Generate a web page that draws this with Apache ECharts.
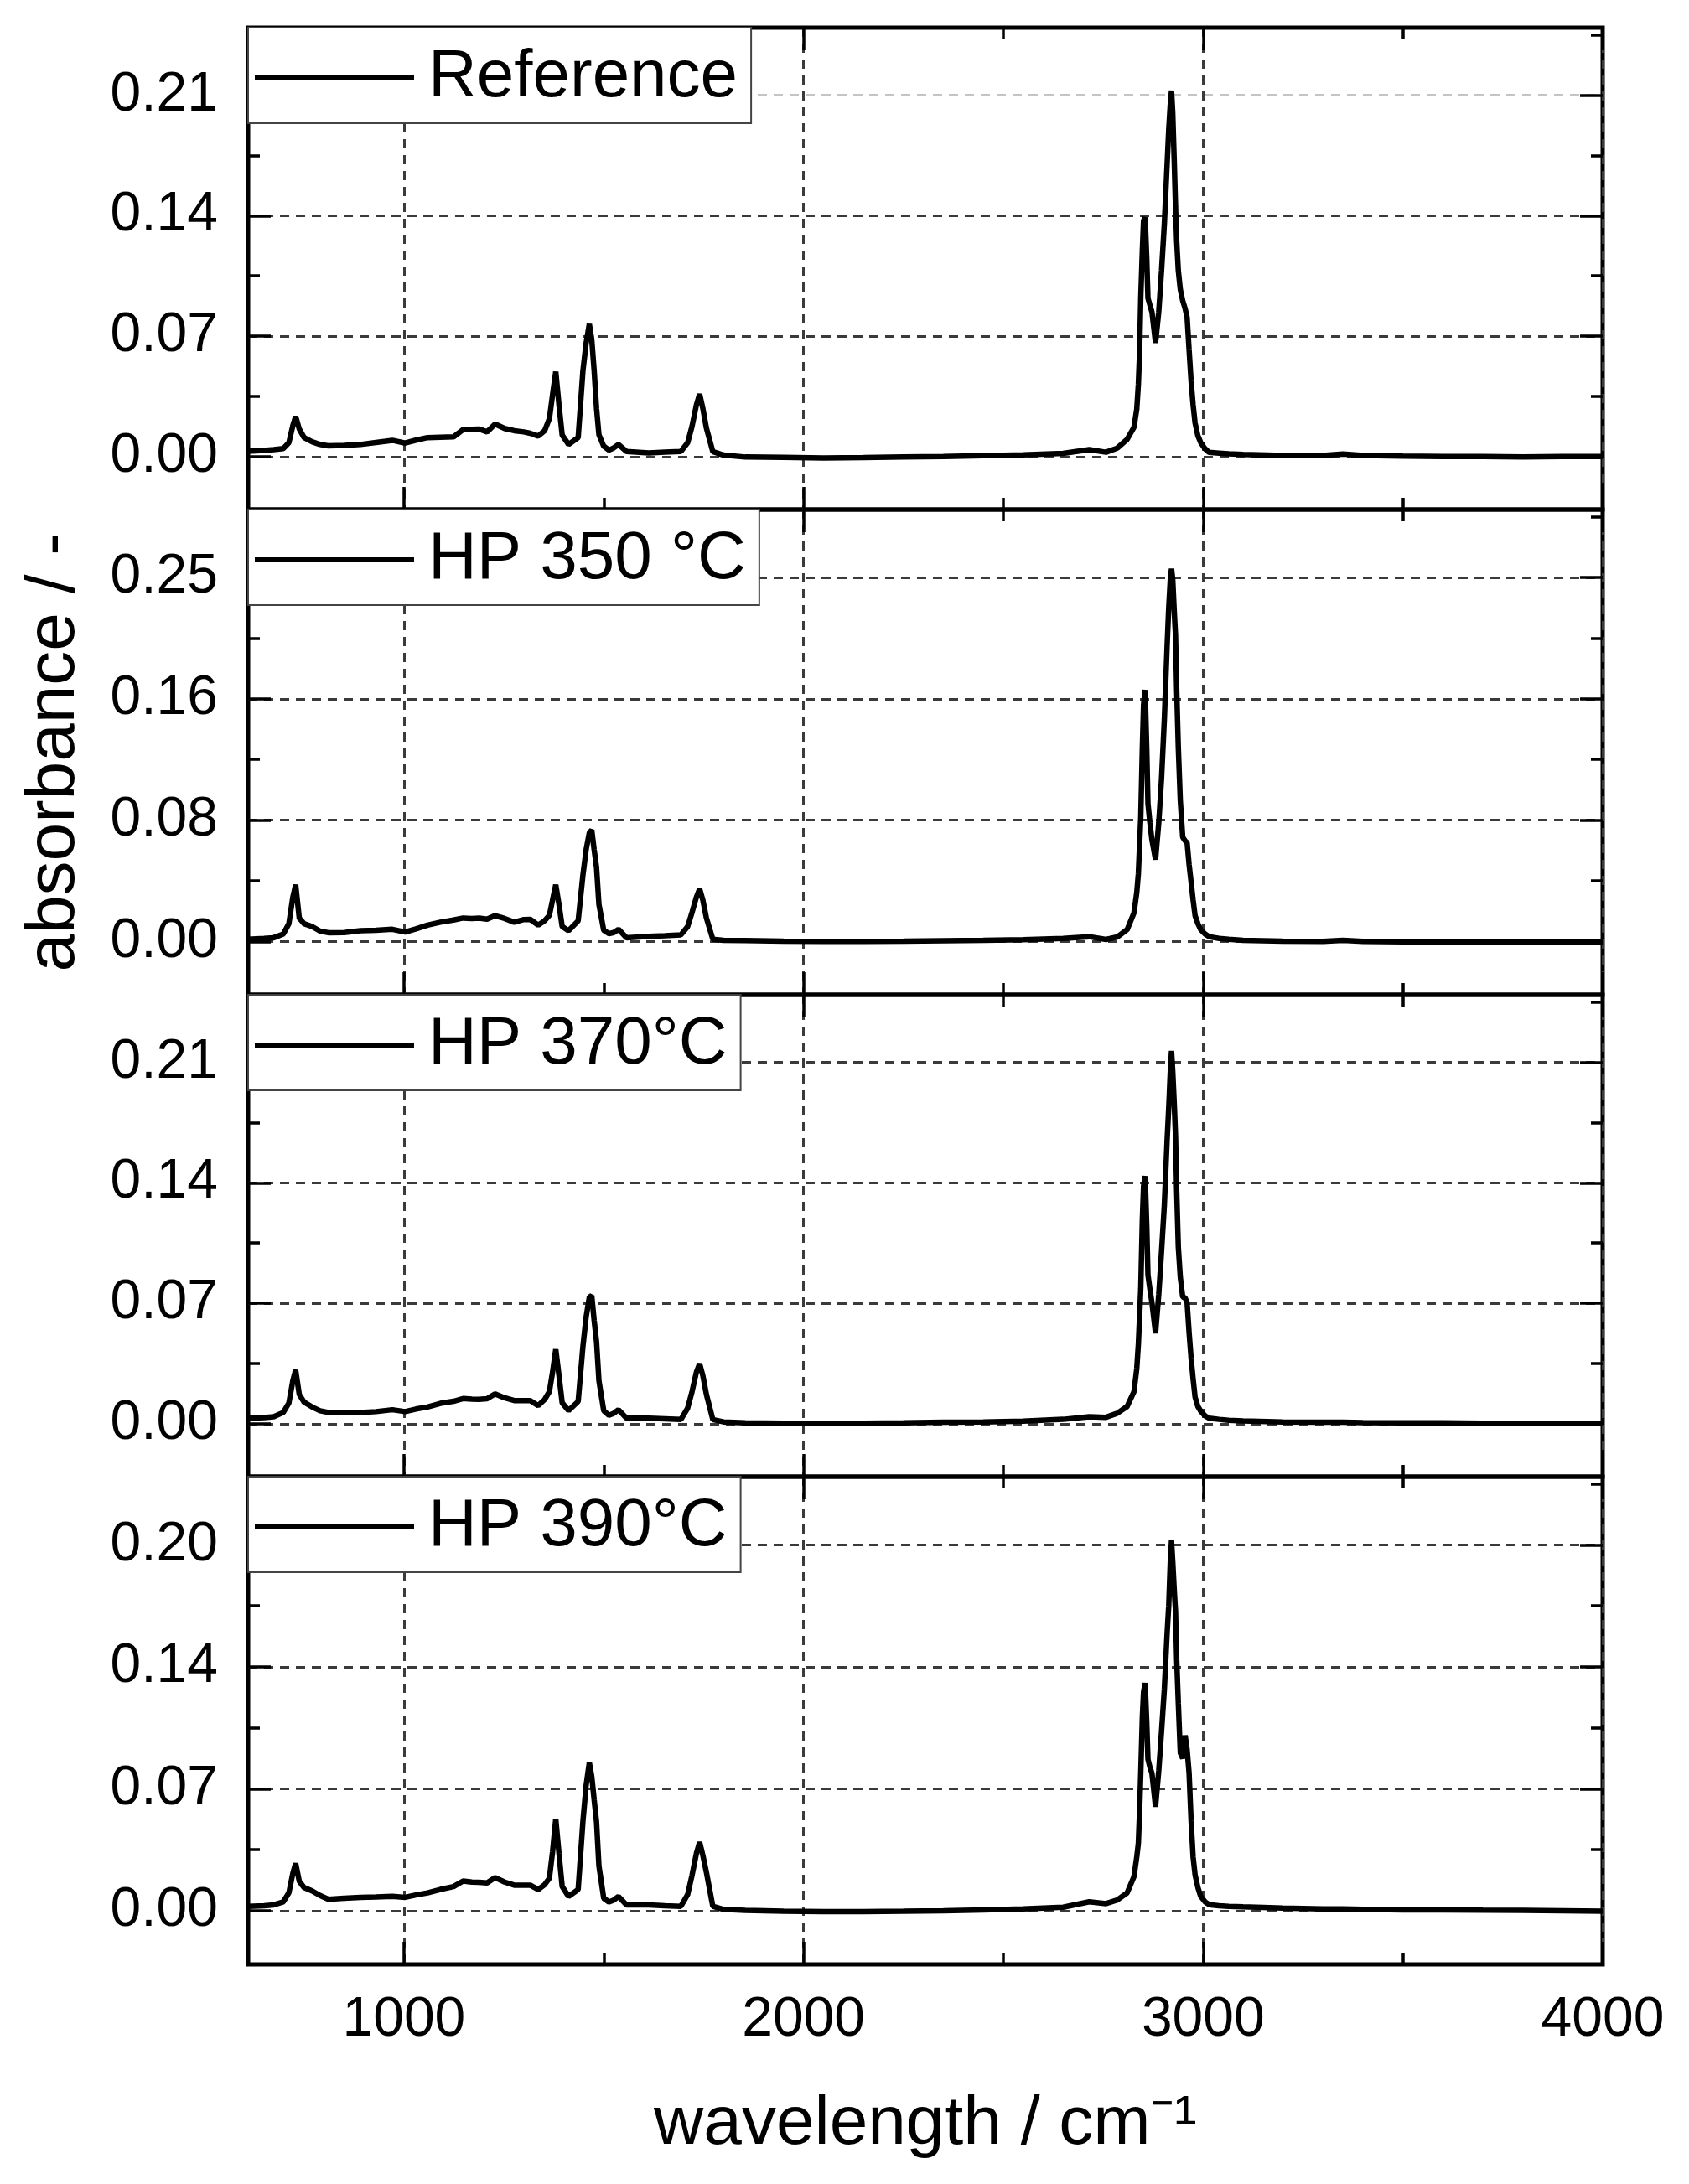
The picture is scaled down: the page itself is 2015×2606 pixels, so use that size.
<!DOCTYPE html>
<html>
<head>
<meta charset="utf-8">
<script src="https://cdn.jsdelivr.net/npm/echarts@6/dist/echarts.min.js"></script>
<style>
  html, body { margin: 0; padding: 0; background: #fff; }
  #chart { width: 2015px; height: 2606px; }
</style>
</head>
<body>
<div id="chart"></div>
<script>
// wavenumber grid shared by all four spectra (cm-1)
const wavenumbers = [
  610, 650, 674, 698, 712, 722, 729, 738, 750, 770,
  790, 811, 850, 891, 930, 971, 1003, 1030, 1059, 1091,
  1124, 1148, 1170, 1188, 1208, 1228, 1252, 1276, 1300, 1316,
  1336, 1352, 1364, 1372, 1380, 1388, 1396, 1412, 1436, 1448,
  1456, 1464, 1470, 1476, 1482, 1488, 1500, 1513, 1525, 1537,
  1557, 1613, 1653, 1693, 1710, 1721, 1732, 1740, 1748, 1757,
  1773, 1800, 1854, 1950, 2050, 2150, 2250, 2350, 2450, 2550,
  2650, 2715, 2757, 2785, 2810, 2827, 2834, 2838, 2841, 2844,
  2848, 2851, 2855, 2859, 2862, 2867, 2872, 2881, 2889, 2896,
  2903, 2910, 2914, 2918, 2921, 2924, 2928, 2931, 2934, 2938,
  2943, 2949, 2955, 2960, 2965, 2970, 2975, 2980, 2987, 2994,
  3005, 3015, 3040, 3064, 3100, 3200, 3300, 3350, 3400, 3500,
  3600, 3700, 3800, 3900, 4000
];

// absorbance of each sample at the wavenumbers above
const absReference = [
  0.003, 0.0035, 0.004, 0.0046, 0.008, 0.018, 0.0233, 0.016, 0.011, 0.0086,
  0.007, 0.0062, 0.0065, 0.007, 0.0082, 0.0094, 0.0078, 0.0095, 0.011, 0.0112,
  0.0114, 0.0156, 0.0158, 0.016, 0.0143, 0.0189, 0.0163, 0.015, 0.0143, 0.0135,
  0.0119, 0.015, 0.022, 0.036, 0.0493, 0.03, 0.0125, 0.007, 0.011, 0.05,
  0.066, 0.077, 0.068, 0.05, 0.028, 0.0127, 0.006, 0.0037, 0.005, 0.007,
  0.0029, 0.0021, 0.0025, 0.0029, 0.008, 0.0176, 0.03, 0.0363, 0.028, 0.0165,
  0.0029, 0.0008, -0.0003, -0.0005, -0.0008, -0.0006, -0.0003, 0.0, 0.0005, 0.001,
  0.0018, 0.004, 0.0025, 0.0049, 0.01, 0.017, 0.0275, 0.042, 0.0598, 0.092,
  0.12, 0.137, 0.139, 0.115, 0.092, 0.088, 0.084, 0.066, 0.084, 0.108,
  0.135, 0.17, 0.19, 0.205, 0.2126, 0.2, 0.17, 0.145, 0.125, 0.108,
  0.097, 0.0905, 0.086, 0.081, 0.062, 0.0437, 0.03, 0.0194, 0.012, 0.0081,
  0.0045, 0.0024, 0.002, 0.0016, 0.0012, 0.0006, 0.0006, 0.0015, 0.0006, 0.0002,
  0.0, 0.0, -0.0002, 0.0, 0.0
];
const absHP350 = [
  0.0015, 0.002, 0.0025, 0.005, 0.012, 0.03, 0.0383, 0.0158, 0.012, 0.0101,
  0.007, 0.0059, 0.006, 0.0072, 0.0075, 0.0082, 0.0063, 0.0085, 0.011, 0.013,
  0.0145, 0.0158, 0.0155, 0.0158, 0.015, 0.0174, 0.0155, 0.013, 0.0148, 0.0149,
  0.011, 0.014, 0.0177, 0.028, 0.0383, 0.025, 0.0101, 0.0072, 0.0139, 0.045,
  0.062, 0.0735, 0.0753, 0.062, 0.05, 0.025, 0.0075, 0.0053, 0.006, 0.0082,
  0.0025, 0.0034, 0.0038, 0.0044, 0.01, 0.0196, 0.03, 0.0355, 0.028, 0.0158,
  0.0015, 0.0008, 0.0006, 0.0002, 0.0, 0.0, 0.0002, 0.0005, 0.0008, 0.0012,
  0.002, 0.0032, 0.0013, 0.003, 0.008, 0.0193, 0.033, 0.0458, 0.065, 0.0837,
  0.131, 0.16, 0.17, 0.13, 0.0932, 0.08, 0.0686, 0.0553, 0.08, 0.11,
  0.15, 0.2, 0.2257, 0.245, 0.2519, 0.245, 0.222, 0.2068, 0.17, 0.131,
  0.095, 0.0704, 0.068, 0.0667, 0.052, 0.0401, 0.028, 0.0174, 0.012, 0.008,
  0.005, 0.0032, 0.002, 0.0015, 0.0008, 0.0002, 0.0, 0.0008, 0.0, -0.0003,
  -0.0005, -0.0005, -0.0005, -0.0006, -0.0006
];
const absHP370 = [
  0.0032, 0.0035, 0.004, 0.0065, 0.012, 0.025, 0.0312, 0.017, 0.0125, 0.0097,
  0.0075, 0.0065, 0.0065, 0.0065, 0.007, 0.0081, 0.007, 0.0085, 0.0097, 0.0118,
  0.013, 0.0146, 0.0142, 0.0141, 0.0145, 0.0173, 0.015, 0.0134, 0.0134, 0.0134,
  0.0105, 0.014, 0.0186, 0.03, 0.0432, 0.028, 0.0121, 0.0076, 0.0129, 0.045,
  0.062, 0.0735, 0.0744, 0.06, 0.0477, 0.025, 0.0075, 0.0049, 0.006, 0.0081,
  0.0032, 0.0032, 0.0028, 0.0024, 0.009, 0.0186, 0.03, 0.0348, 0.028, 0.017,
  0.0024, 0.001, 0.0005, 0.0003, 0.0002, 0.0003, 0.0005, 0.0008, 0.001, 0.0015,
  0.0025, 0.004, 0.0037, 0.006, 0.01, 0.0186, 0.032, 0.0461, 0.062, 0.0784,
  0.1188, 0.138, 0.1439, 0.115, 0.0865, 0.078, 0.0703, 0.0525, 0.075, 0.1,
  0.1269, 0.165, 0.1835, 0.205, 0.2166, 0.205, 0.185, 0.1673, 0.135, 0.1027,
  0.085, 0.0736, 0.073, 0.0703, 0.053, 0.038, 0.026, 0.0154, 0.01, 0.0073,
  0.0045, 0.0032, 0.0025, 0.002, 0.0016, 0.001, 0.0008, 0.0008, 0.0006, 0.0005,
  0.0005, 0.0003, 0.0003, 0.0002, 0.0
];
const absHP390 = [
  0.0025, 0.0028, 0.0033, 0.005, 0.01, 0.021, 0.0264, 0.0165, 0.013, 0.0111,
  0.0085, 0.0064, 0.007, 0.0075, 0.0077, 0.008, 0.0075, 0.0088, 0.01, 0.0119,
  0.0135, 0.0166, 0.016, 0.0159, 0.0155, 0.0185, 0.016, 0.0143, 0.0143, 0.0143,
  0.0119, 0.0145, 0.0182, 0.033, 0.0512, 0.032, 0.0135, 0.008, 0.0119, 0.05,
  0.07, 0.0826, 0.075, 0.062, 0.0496, 0.025, 0.007, 0.0049, 0.006, 0.008,
  0.0033, 0.0033, 0.0028, 0.0025, 0.009, 0.0198, 0.032, 0.0383, 0.031, 0.0214,
  0.0025, 0.0008, 0.0002, -0.0003, -0.0005, -0.0005, -0.0003, 0.0, 0.0005, 0.001,
  0.002, 0.005, 0.004, 0.006, 0.01, 0.019, 0.03, 0.0377, 0.055, 0.0767,
  0.108, 0.122, 0.127, 0.105, 0.0845, 0.08, 0.0767, 0.058, 0.078, 0.1,
  0.1235, 0.155, 0.17, 0.195, 0.2065, 0.195, 0.178, 0.167, 0.14, 0.1157,
  0.088, 0.085, 0.0978, 0.09, 0.0767, 0.05, 0.03, 0.02, 0.013, 0.0081,
  0.005, 0.0034, 0.0028, 0.0025, 0.0022, 0.0015, 0.001, 0.001, 0.0008, 0.0005,
  0.0005, 0.0003, 0.0002, 0.0, -0.0002
];

const seriesNames = ['Reference', 'HP 350 °C', 'HP 370°C', 'HP 390°C'];
const seriesValues = [absReference, absHP350, absHP370, absHP390];
// major y tick step of each panel (labels show them rounded to 2 decimals)
const yTickSteps = [0.07, 0.082, 0.07, 0.068];
const xMajorTicks = [1000, 2000, 3000, 4000];
const xMinorTicks = [1500, 2500, 3500];
const xMin = 610;
const xMax = 4000;

const FONT = 'Liberation Sans, Arial, sans-serif';
const gridTops = [33, 608, 1187, 1762];
const gridHeights = [575, 579, 575, 582];

const chart = echarts.init(document.getElementById('chart'));

const grids = [], xAxes = [], yAxes = [], series = [], legends = [];

for (let g = 0; g < 4; g++) {
  grids.push({
    left: 296, right: 103, top: gridTops[g], height: gridHeights[g],
    show: true, borderWidth: 5, borderColor: '#000', backgroundColor: 'transparent'
  });

  const isBottom = g === 3;
  // x axes: bottom major (labels + grid), bottom minor, top major, top minor
  [['bottom', 'major'], ['bottom', 'minor'], ['top', 'major'], ['top', 'minor']].forEach(([pos, kind]) => {
    const main = pos === 'bottom' && kind === 'major';
    xAxes.push({
      type: 'value', gridIndex: g, position: pos, min: xMin, max: xMax,
      axisLine: { show: false, onZero: false },
      axisTick: {
        show: true, inside: true,
        customValues: kind === 'major' ? xMajorTicks : xMinorTicks,
        length: kind === 'major' ? 27 : 14,
        lineStyle: { color: '#000', width: 3.5 }
      },
      axisLabel: {
        show: main && isBottom, customValues: xMajorTicks,
        formatter: v => String(v),
        margin: 34, fontSize: 66, color: '#000', fontFamily: FONT
      },
      splitLine: {
        show: main,
        lineStyle: { type: [11, 8], width: 3, color: '#3a3a3a' }
      },
      name: main && isBottom ? 'wavelength / cm⁻¹' : '',
      nameLocation: 'middle',
      nameGap: 150,
      nameTextStyle: { fontSize: 82, color: '#000', fontFamily: FONT }
    });
  });

  const step = yTickSteps[g];
  const yMajor = [0, 1, 2, 3].map(k => k * step);
  const yMinor = [0.5, 1.5, 2.5, 3.5].map(k => k * step);
  [['left', 'major'], ['left', 'minor'], ['right', 'major'], ['right', 'minor']].forEach(([pos, kind]) => {
    const main = pos === 'left' && kind === 'major';
    yAxes.push({
      type: 'value', gridIndex: g, position: pos,
      min: -0.44 * step, max: 3.56 * step,
      axisLine: { show: false, onZero: false },
      axisTick: {
        show: true, inside: true,
        customValues: kind === 'major' ? yMajor : yMinor,
        length: kind === 'major' ? 27 : 14,
        lineStyle: { color: '#000', width: 3.5 }
      },
      axisLabel: {
        show: main, customValues: yMajor,
        formatter: v => v.toFixed(2),
        margin: 36, fontSize: 66, color: '#000', fontFamily: FONT
      },
      splitLine: {
        show: main,
        lineStyle: {
          type: [11, 8], width: 3,
          // the top grid line of the first panel is light grey in the original
          color: g === 0 ? ['#3a3a3a', '#3a3a3a', '#3a3a3a', '#c4c4c4'] : '#3a3a3a'
        }
      },
      name: main && g === 1 ? 'absorbance / -' : '',
      nameLocation: 'middle',
      nameGap: 190,
      nameTextStyle: { fontSize: 82, color: '#000', fontFamily: FONT }
    });
  });

  series.push({
    name: seriesNames[g],
    type: 'line',
    xAxisIndex: g * 4,
    yAxisIndex: g * 4,
    data: wavenumbers.map((w, i) => [w, seriesValues[g][i]]),
    symbol: 'none',
    lineStyle: { color: '#000', width: 6.5 },
    itemStyle: { color: '#000' },
    animation: false,
    z: 3
  });

  legends.push({
    data: [seriesNames[g]],
    left: 296, top: gridTops[g],
    orient: 'vertical',
    selectedMode: false,
    backgroundColor: '#fff',
    borderColor: '#444',
    borderWidth: 2,
    borderRadius: 0,
    padding: [20, 16, 14, 8],
    icon: 'rect',
    itemWidth: 190,
    itemHeight: 6,
    itemStyle: { color: '#000' },
    textStyle: { fontSize: 80, color: '#000', fontFamily: FONT, padding: [0, 0, 0, 12] },
    z: 5
  });
}

chart.setOption({
  backgroundColor: '#fff',
  animation: false,
  grid: grids,
  xAxis: xAxes,
  yAxis: yAxes,
  legend: legends,
  series: series
});

window.addEventListener('resize', () => {
  chart.resize();
});
</script>
</body>
</html>
